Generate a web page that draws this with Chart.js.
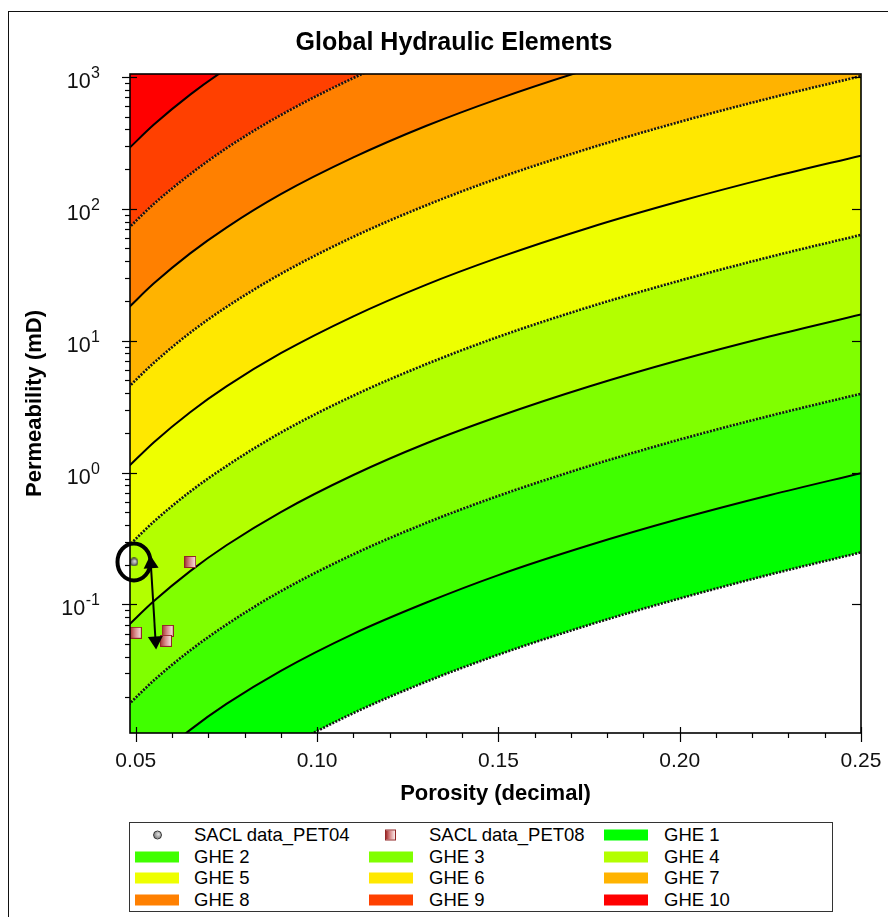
<!DOCTYPE html>
<html>
<head>
<meta charset="utf-8">
<script src="https://cdn.jsdelivr.net/npm/chart.js@4/dist/chart.umd.min.js"></script>
<style>
  html, body { margin: 0; padding: 0; background: #fff; width: 888px; height: 917px; overflow: hidden; }
  #frame { position: absolute; left: 8px; top: 11px; width: 900px; height: 920px; border: 1px solid #111; box-sizing: border-box; }
  #c { position: absolute; left: 0; top: 0; }
  #legend { position: absolute; left: 129px; top: 822px; width: 704px; height: 90px; border: 1px solid #333; box-sizing: border-box; background: #fff;
            font-family: 'Liberation Sans', Arial, sans-serif; font-size: 18.5px; color: #000; }
  .item { position: absolute; height: 22px; line-height: 22px; white-space: nowrap; }
  .sym { position: absolute; top: 50%; transform: translateY(-50%); }
  .txt { position: absolute; top: 0; }
</style>
</head>
<body>
<div id="frame"></div>
<canvas id="c" width="888" height="917"></canvas>
<div id="legend"></div>
<script>
// ---------------- data ----------------
const chartTitle = 'Global Hydraulic Elements';
const xTitle = 'Porosity (decimal)';
const yTitle = 'Permeability (mD)';

// porosity sample positions along the GHE boundary curves
const porosityGrid = [0.048, 0.055, 0.065, 0.075, 0.09, 0.11, 0.13, 0.15, 0.175, 0.20, 0.225, 0.25];

// permeability (mD) of each GHE lower boundary
const ghe1Lower  = [0.00109, 0.00166, 0.0028, 0.0044, 0.0078, 0.015, 0.0259, 0.0416, 0.070, 0.111, 0.169, 0.248];
const ghe2Lower  = [0.00435, 0.00664, 0.0112, 0.0176, 0.0314, 0.0599, 0.103, 0.167, 0.281, 0.446, 0.676, 0.99];
const ghe3Lower  = [0.0174, 0.0266, 0.0448, 0.0703, 0.126, 0.240, 0.414, 0.666, 1.12, 1.78, 2.70, 3.96];
const ghe4Lower  = [0.0696, 0.106, 0.179, 0.281, 0.502, 0.958, 1.66, 2.66, 4.49, 7.13, 10.8, 15.8];
const ghe5Lower  = [0.278, 0.425, 0.717, 1.12, 2.01, 3.83, 6.62, 10.7, 18.0, 28.5, 43.3, 63.4];
const ghe6Lower  = [1.11, 1.70, 2.87, 4.50, 8.03, 15.3, 26.5, 42.6, 71.9, 114, 173, 253];
const ghe7Lower  = [4.45, 6.80, 11.5, 18.0, 32.1, 61.3, 106, 171, 287, 456, 692, 1014];
const ghe8Lower  = [17.8, 27.2, 45.9, 72.0, 129, 245, 424, 682, 1150, 1825, 2769, 4056];
const ghe9Lower  = [71.3, 109, 183, 288, 514, 981, 1695, 2728, 4600, 7300, 11080, 16220];
const ghe10Lower = [285, 435, 734, 1152, 2057, 3926, 6781, 10913, 18400, 29200, 44300, 64900];

const gheNames  = ['GHE 1', 'GHE 2', 'GHE 3', 'GHE 4', 'GHE 5', 'GHE 6', 'GHE 7', 'GHE 8', 'GHE 9', 'GHE 10'];
const gheColors = ['#00FF00', '#40FF00', '#80FF00', '#B3FF00', '#EEFF00', '#FFE800', '#FFB300', '#FF8000', '#FF4000', '#FF0000'];

// sample data
const pet04Name = 'SACL data_PET04';
const pet04Porosity = [0.0495];
const pet04Perm = [0.21];
const pet08Name = 'SACL data_PET08';
const pet08Porosity = [0.065, 0.050, 0.0588, 0.0583];
const pet08Perm = [0.21, 0.061, 0.063, 0.053];

// annotation (ellipse around PET04 point, double arrow)
const arrowTop = [0.0540, 0.236];
const arrowBottom = [0.0556, 0.0456];

// axes
const xMin = 0.0484, xMax = 0.25;
const yMin = 0.0106, yMax = 1052;
const xTickValues = [0.05, 0.10, 0.15, 0.20, 0.25];
const xTickLabels = ['0.05', '0.10', '0.15', '0.20', '0.25'];
const xMinorTicks = [0.06, 0.07, 0.08, 0.09, 0.11, 0.12, 0.13, 0.14, 0.16, 0.17, 0.18, 0.19, 0.21, 0.22, 0.23, 0.24];
const yTickValues = [0.1, 1, 10, 100, 1000];
const yTickExponents = ['-1', '0', '1', '2', '3'];

// ---------------- build ----------------
const FONT = "'Liberation Sans', Arial, sans-serif";
const boundaries = [ghe1Lower, ghe2Lower, ghe3Lower, ghe4Lower, ghe5Lower, ghe6Lower, ghe7Lower, ghe8Lower, ghe9Lower, ghe10Lower];

function makeSphere(size) {
  const c = document.createElement('canvas'); c.width = size; c.height = size;
  const g = c.getContext('2d');
  const r = size / 2 - 0.6;
  const grd = g.createRadialGradient(size * 0.62, size * 0.4, 0, size / 2, size / 2, r);
  grd.addColorStop(0, '#e4e4e4'); grd.addColorStop(1, '#5e5e5e');
  g.beginPath(); g.arc(size / 2, size / 2, r, 0, Math.PI * 2);
  g.fillStyle = grd; g.fill(); g.lineWidth = 0.9; g.strokeStyle = '#333'; g.stroke();
  return c;
}
function makeSquare(size) {
  const c = document.createElement('canvas'); c.width = size; c.height = size;
  const g = c.getContext('2d');
  const grd = g.createLinearGradient(0, 0, size, 0);
  grd.addColorStop(0, '#a02c2c'); grd.addColorStop(0.45, '#d88a8a'); grd.addColorStop(1, '#fbecec');
  g.fillStyle = grd; g.fillRect(0.5, 0.5, size - 1, size - 1);
  g.strokeStyle = '#922626'; g.lineWidth = 1; g.strokeRect(0.5, 0.5, size - 1, size - 1);
  return c;
}

const datasets = [];
datasets.push({
  label: pet04Name, data: pet04Porosity.map((x, i) => ({x, y: pet04Perm[i]})),
  showLine: false, pointStyle: makeSphere(9), pointRadius: 5, fill: false
});
datasets.push({
  label: pet08Name, data: pet08Porosity.map((x, i) => ({x, y: pet08Perm[i]})),
  showLine: false, pointStyle: makeSquare(12), pointRadius: 6, fill: false
});
boundaries.forEach((arr, i) => {
  const dotted = (i % 2 === 0);
  datasets.push({
    label: 'boundary ' + (i + 1),
    data: porosityGrid.map((x, j) => ({x, y: arr[j]})),
    showLine: true, pointRadius: 0,
    borderColor: dotted ? '#141414' : '#000',
    borderWidth: dotted ? 2.6 : 2,
    borderDash: dotted ? [2, 1.4] : [],
    cubicInterpolationMode: 'monotone',
    backgroundColor: i === 0 ? 'transparent' : gheColors[i - 1],
    fill: i === 0 ? false : '-1'
  });
});
datasets.push({
  label: 'top', data: porosityGrid.map((x, j) => ({x, y: ghe10Lower[j]})),
  showLine: true, pointRadius: 0, borderWidth: 0, borderColor: 'transparent',
  cubicInterpolationMode: 'monotone', backgroundColor: gheColors[9], fill: 'end'
});

const decor = {
  id: 'decor',
  afterDraw(chart) {
    const {ctx, chartArea: a, scales: {x, y}} = chart;
    ctx.save();
    // annotation
    const pc = [x.getPixelForValue(pet04Porosity[0]), y.getPixelForValue(pet04Perm[0])];
    ctx.strokeStyle = '#000'; ctx.lineWidth = 4;
    ctx.beginPath(); ctx.ellipse(pc[0], pc[1], 16.5, 18.5, 0, 0, Math.PI * 2); ctx.stroke();
    const p1 = [x.getPixelForValue(arrowTop[0]), y.getPixelForValue(arrowTop[1])];
    const p2 = [x.getPixelForValue(arrowBottom[0]), y.getPixelForValue(arrowBottom[1])];
    const ang = Math.atan2(p2[1] - p1[1], p2[0] - p1[0]);
    ctx.lineWidth = 2;
    ctx.beginPath(); ctx.moveTo(p1[0] + 10 * Math.cos(ang), p1[1] + 10 * Math.sin(ang));
    ctx.lineTo(p2[0] - 10 * Math.cos(ang), p2[1] - 10 * Math.sin(ang)); ctx.stroke();
    function head(tip, dir) {
      const L = 13, W = 7.5;
      const bx = tip[0] - L * Math.cos(dir), by = tip[1] - L * Math.sin(dir);
      ctx.beginPath(); ctx.moveTo(tip[0], tip[1]);
      ctx.lineTo(bx + W * Math.sin(dir), by - W * Math.cos(dir));
      ctx.lineTo(bx - W * Math.sin(dir), by + W * Math.cos(dir));
      ctx.closePath(); ctx.fillStyle = '#000'; ctx.fill();
    }
    head(p1, ang + Math.PI); head(p2, ang);

    // plot frame
    ctx.strokeStyle = '#000'; ctx.lineWidth = 1.6;
    ctx.strokeRect(a.left, a.top, a.right - a.left, a.bottom - a.top);
    // tick marks
    ctx.lineWidth = 1.2; ctx.strokeStyle = '#000';
    function seg(x1, y1, x2, y2) { ctx.beginPath(); ctx.moveTo(x1, y1); ctx.lineTo(x2, y2); ctx.stroke(); }
    yTickValues.forEach(v => {
      const p = Math.round(y.getPixelForValue(v)) + 0.5;
      seg(a.left - 8, p, a.left + 7, p);
      seg(a.right - 9, p, a.right, p);
    });
    for (let e = -2; e <= 3; e++) {
      for (let m = 2; m <= 9; m++) {
        const v = m * Math.pow(10, e);
        if (v < yMin || v > yMax) continue;
        const p = Math.round(y.getPixelForValue(v)) + 0.5;
        seg(a.left - 5, p, a.left, p);
      }
    }
    xTickValues.forEach(v => {
      const p = Math.round(x.getPixelForValue(v)) + 0.5;
      seg(p, a.bottom - 6, p, a.bottom + 9);
    });
    xMinorTicks.forEach(v => {
      const p = Math.round(x.getPixelForValue(v)) + 0.5;
      seg(p, a.bottom, p, a.bottom + 5);
    });
    // y tick labels with superscript exponents
    ctx.fillStyle = '#111'; ctx.textBaseline = 'alphabetic'; ctx.textAlign = 'right';
    yTickValues.forEach((v, i) => {
      const p = y.getPixelForValue(v);
      ctx.font = '16px ' + FONT;
      const w = ctx.measureText(yTickExponents[i]).width;
      ctx.fillText(yTickExponents[i], 100, p + 1);
      ctx.font = '21.5px ' + FONT;
      ctx.fillText('10', 100 - w - 0.5, p + 11);
    });
    ctx.restore();
  }
};

new Chart(document.getElementById('c'), {
  type: 'line',
  data: { datasets },
  options: {
    responsive: false, animation: false, devicePixelRatio: 1,
    layout: { padding: { left: 20, right: 0, top: 0, bottom: 94 } },
    plugins: {
      legend: { display: false }, tooltip: { enabled: false },
      title: { display: true, text: chartTitle, color: '#000',
               font: { family: FONT, size: 25, weight: 'bold', lineHeight: 1.2 },
               padding: { top: 28, bottom: 16 } },
      filler: { propagate: false }
    },
    scales: {
      x: {
        type: 'linear', min: xMin, max: xMax,
        grid: { display: false, drawTicks: true, tickLength: 16 }, border: { display: false },
        afterBuildTicks: s => { s.ticks = xTickValues.map(v => ({ value: v })); },
        afterFit: s => { s.height = 90; },
        ticks: { color: '#111', font: { family: FONT, size: 21 }, padding: 0, maxRotation: 0, autoSkip: false,
                 callback: (v) => xTickLabels[xTickValues.findIndex(t => Math.abs(t - v) < 1e-9)] },
        title: { display: true, text: xTitle, color: '#000', font: { family: FONT, size: 22, weight: 'bold', lineHeight: 1.2 },
                 padding: { top: 0, bottom: 16 } }
      },
      y: {
        type: 'logarithmic', min: yMin, max: yMax,
        grid: { display: false, drawTicks: false }, border: { display: false },
        ticks: { display: false },
        afterFit: s => { s.width = 110; },
        title: { display: true, text: yTitle, color: '#000', font: { family: FONT, size: 22, weight: 'bold', lineHeight: 1.2 },
                 padding: { top: 1.8, bottom: 0 } }
      },
      y2: {
        type: 'linear', position: 'right', display: true,
        grid: { display: false, drawTicks: false }, border: { display: false },
        ticks: { display: false },
        afterFit: s => { s.width = 27; }
      }
    }
  },
  plugins: [decor]
});

// ---------------- HTML legend ----------------
const legendItems = [
  { label: pet04Name, kind: 'sphere' },
  { label: pet08Name, kind: 'square' }
].concat(gheNames.map((n, i) => ({ label: n, kind: 'bar', color: gheColors[i] })));
const colSym = [5, 239, 474], colTxt = [64, 299, 534];
const leg = document.getElementById('legend');
legendItems.forEach((it, k) => {
  const r = Math.floor(k / 3), c = k % 3;
  const d = document.createElement('div'); d.className = 'item';
  d.style.left = '0px'; d.style.top = (1 + r * 21.67) + 'px'; d.style.width = '700px';
  const s = document.createElement('div'); s.className = 'sym';
  if (it.kind === 'bar') {
    s.style.left = colSym[c] + 'px'; s.style.width = '44px'; s.style.height = '11px'; s.style.background = it.color;
  } else if (it.kind === 'sphere') {
    s.style.left = (colSym[c] + 18) + 'px'; s.style.width = '9px'; s.style.height = '9px'; s.style.borderRadius = '50%';
    s.style.background = 'radial-gradient(circle at 62% 40%, #e4e4e4 0%, #5e5e5e 100%)'; s.style.border = '1px solid #333'; s.style.boxSizing = 'border-box';
  } else {
    s.style.left = (colSym[c] + 16) + 'px'; s.style.width = '11px'; s.style.height = '11px';
    s.style.background = 'linear-gradient(90deg, #a02c2c 0%, #d88a8a 45%, #fbecec 100%)'; s.style.border = '1px solid #922626'; s.style.boxSizing = 'border-box';
  }
  const t = document.createElement('span'); t.className = 'txt'; t.style.left = colTxt[c] + 'px'; t.textContent = it.label;
  d.appendChild(s); d.appendChild(t); leg.appendChild(d);
});
</script>
</body>
</html>
